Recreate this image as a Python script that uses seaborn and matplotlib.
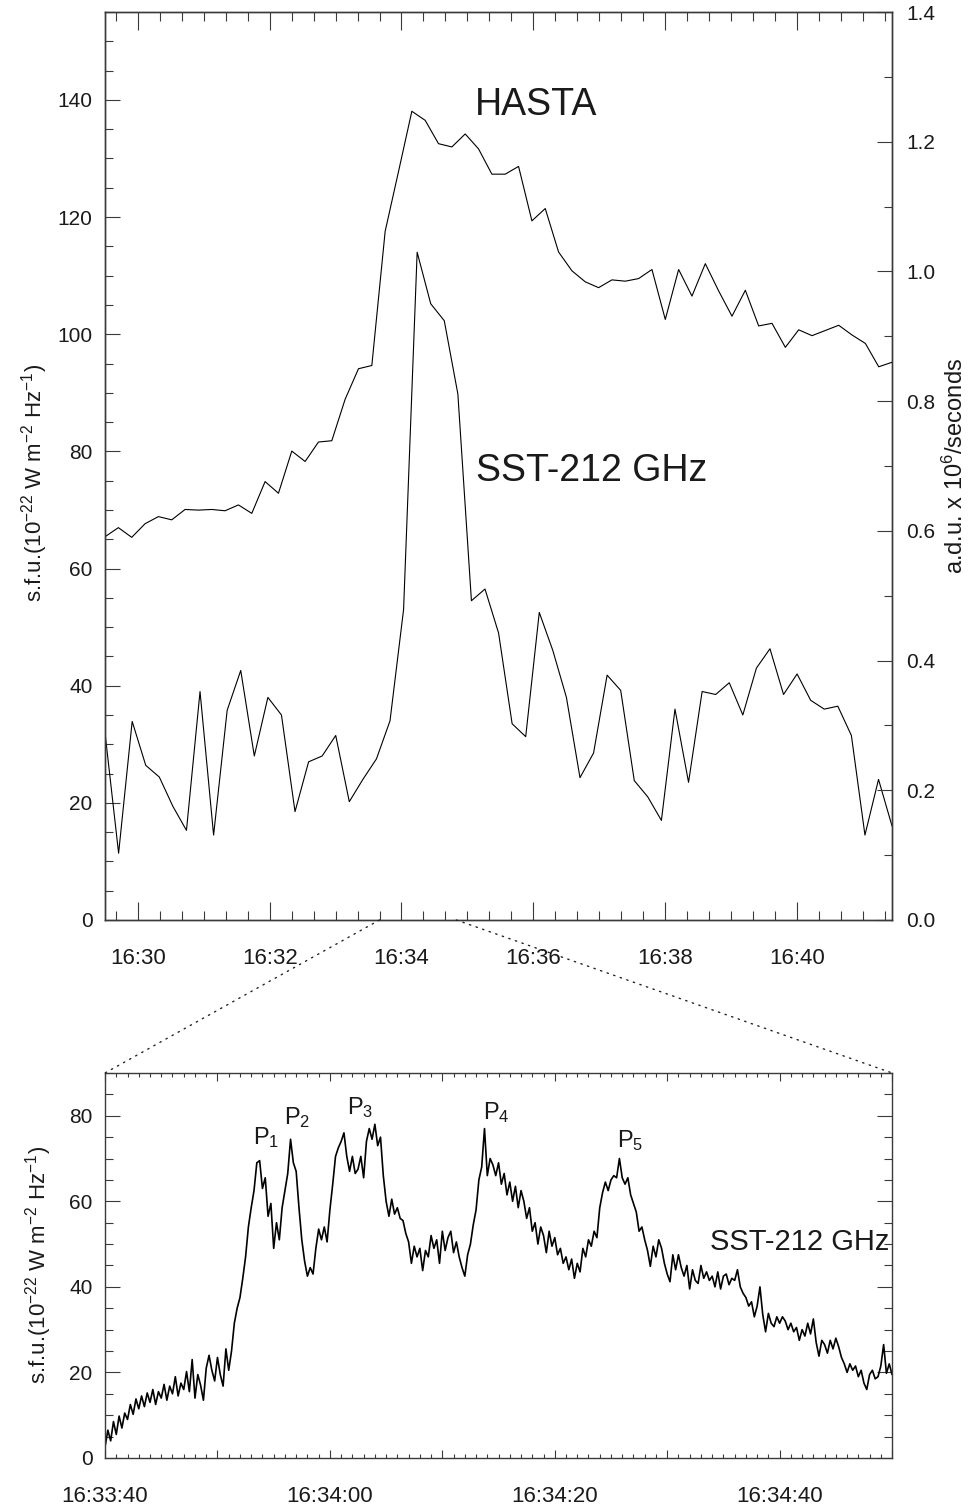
import numpy as np
import matplotlib
matplotlib.use("Agg")
import matplotlib.pyplot as plt
from matplotlib.ticker import MultipleLocator, FuncFormatter
from matplotlib.patches import ConnectionPatch
import seaborn as sns

sns.set_theme(style="ticks")
plt.rcParams['font.family'] = ['Liberation Sans', 'DejaVu Sans']
plt.rcParams['mathtext.fontset'] = 'custom'
plt.rcParams['mathtext.rm'] = 'Liberation Sans'
plt.rcParams['mathtext.it'] = 'Liberation Sans'
plt.rcParams['mathtext.bf'] = 'Liberation Sans:bold'

# ---------------- data ----------------
# top panel: both series start at 16:29:30
top_start_s = 16 * 3600 + 29 * 60 + 30
hasta_cadence_s = 12.15
sst_top_cadence_s = 12.36
hasta_adu = [0.591, 0.605, 0.590, 0.611, 0.622, 0.617, 0.633, 0.632, 0.633, 0.631,
             0.640, 0.627, 0.676, 0.658, 0.723, 0.707, 0.737, 0.739, 0.803, 0.850,
             0.855, 1.062, 1.154, 1.247, 1.233, 1.197, 1.192, 1.212, 1.189, 1.150,
             1.150, 1.162, 1.078, 1.097, 1.030, 1.001, 0.984, 0.975, 0.987, 0.985,
             0.989, 1.003, 0.926, 1.003, 0.962, 1.012, 0.970, 0.931, 0.971, 0.916,
             0.920, 0.883, 0.910, 0.901, 0.909, 0.917, 0.902, 0.889, 0.853, 0.860]
sst_top_sfu = [31.9, 11.4, 33.9, 26.4, 24.4, 19.4, 15.3, 39.0, 14.5, 35.8,
               42.6, 28.0, 38.0, 35.0, 18.5, 27.0, 28.0, 31.5, 20.2, 24.0,
               27.5, 34.0, 53.0, 114.0, 105.2, 102.3, 89.8, 54.5, 56.5, 49.0,
               33.5, 31.3, 52.5, 46.0, 38.0, 24.3, 28.5, 41.8, 39.2, 23.8,
               21.0, 17.0, 36.0, 23.5, 39.0, 38.5, 40.5, 35.0, 43.0, 46.3,
               38.5, 42.0, 37.5, 36.0, 36.5, 31.5, 14.5, 24.0, 16.0]

# bottom panel: 16:33:40 - 16:34:50, 0.25 s sampling
zoom_start_s = 16 * 3600 + 33 * 60 + 40
zoom_end_s = 16 * 3600 + 34 * 60 + 50
zoom_cadence_s = 0.25
sst_zoom_sfu = [
    2.6, 6.5, 4.0, 8.5, 5.5, 9.8, 7.0, 10.5, 9.0, 12.5, 10.2, 13.8, 11.5, 14.5, 12.0, 15.2, 13.0, 16.0, 12.5, 15.5,
    14.0, 17.2, 13.5, 16.8, 15.0, 19.0, 14.5, 17.5, 16.0, 20.2, 15.5, 23.0, 14.0, 19.5, 17.0, 13.5, 21.0, 24.0, 20.5, 18.0,
    23.5, 19.5, 16.8, 25.5, 20.5, 25.0, 31.5, 35.0, 37.5, 42.0, 47.0, 54.0, 58.5, 62.5, 69.0, 69.5, 63.0, 65.5, 56.5, 59.5,
    49.0, 55.0, 51.0, 58.5, 62.5, 66.5, 74.5, 69.0, 67.0, 58.5, 51.0, 46.0, 42.5, 44.5, 43.0, 49.0, 53.5, 51.0, 54.0, 50.5,
    58.0, 64.0, 70.5, 72.5, 74.0, 76.0, 70.5, 67.0, 70.5, 66.5, 67.5, 70.5, 65.5, 74.0, 77.0, 74.5, 78.0, 73.0, 75.0, 66.0,
    60.0, 56.5, 60.5, 57.0, 58.5, 56.0, 55.5, 52.5, 50.5, 45.5, 49.5, 47.0, 49.0, 43.8, 48.5, 47.0, 52.0, 49.0, 51.0, 45.5,
    53.0, 48.5, 51.5, 53.0, 48.0, 50.5, 47.0, 44.5, 42.5, 47.5, 50.0, 54.5, 58.0, 65.0, 68.0, 77.0, 66.0, 70.0, 68.5, 66.0,
    69.0, 64.0, 66.5, 61.5, 64.5, 60.0, 63.5, 58.5, 62.5, 60.0, 56.0, 58.5, 53.0, 55.0, 50.0, 54.0, 52.0, 48.0, 53.0, 49.5,
    51.5, 47.5, 49.0, 45.5, 47.0, 44.0, 46.5, 42.0, 45.5, 43.5, 49.0, 47.0, 51.0, 49.5, 53.0, 51.5, 58.5, 62.0, 64.5, 62.5,
    65.0, 66.0, 65.5, 70.0, 65.5, 64.0, 65.5, 61.5, 59.5, 57.5, 53.0, 54.0, 51.0, 48.5, 44.8, 49.5, 47.0, 51.0, 49.0, 45.5,
    43.0, 41.2, 47.5, 44.0, 47.5, 44.5, 42.5, 45.0, 39.5, 44.0, 41.5, 40.8, 45.0, 42.0, 43.5, 41.5, 42.5, 40.0, 43.5, 39.5,
    42.5, 43.0, 40.5, 42.0, 41.5, 44.0, 40.0, 38.5, 37.5, 35.5, 36.5, 33.0, 35.5, 40.0, 33.5, 29.5, 33.8, 31.5, 30.7, 33.0,
    31.5, 33.0, 32.0, 30.0, 31.5, 29.5, 30.5, 27.5, 30.0, 28.5, 31.5, 29.0, 32.5, 27.0, 23.8, 27.5, 26.5, 24.5, 27.5, 25.5,
    28.0, 26.0, 23.5, 22.0, 20.0, 22.0, 20.5, 21.5, 19.0, 20.5, 17.5, 16.0, 19.5, 20.5, 18.5, 19.0, 21.5, 26.5, 19.8, 22.0,
    19.5]

peak_labels = ["P$_1$", "P$_2$", "P$_3$", "P$_4$", "P$_5$"]
peak_label_t = ["16:33:54.3", "16:33:57.1", "16:34:02.7", "16:34:14.8", "16:34:26.7"]
peak_label_y = [74.9, 79.6, 81.9, 80.7, 74.1]

# ---------------- helpers ----------------
def hms_to_s(s):
    h, m, sec = s.split(":")
    return int(h) * 3600 + int(m) * 60 + float(sec)

hasta_t = top_start_s + hasta_cadence_s * np.arange(len(hasta_adu))
sst_top_t = top_start_s + sst_top_cadence_s * np.arange(len(sst_top_sfu))
zoom_t = zoom_start_s + zoom_cadence_s * np.arange(len(sst_zoom_sfu))

fmt_hm = FuncFormatter(lambda v, p: f"{int(v // 3600)}:{int(v % 3600 // 60):02d}")
def _fmt_hms(v, p):
    v = int(round(v))
    if v % 20 != 0:
        return ""
    return f"{v // 3600}:{v % 3600 // 60:02d}:{v % 60:02d}"
fmt_hms = FuncFormatter(_fmt_hms)

SPINE = "#3a3a3a"
TXT = "#1a1a1a"

fig = plt.figure(figsize=(9.69, 15.04), dpi=100)
ax = fig.add_axes([0.1084, 0.3883, 0.8122, 0.6037])
axb = fig.add_axes([0.1084, 0.0306, 0.8122, 0.2560])

# ---- top panel ----
sns.lineplot(x=sst_top_t, y=np.array(sst_top_sfu), ax=ax, color="black", linewidth=0.8,
             estimator=None, sort=False)
ax2 = ax.twinx()
sns.lineplot(x=hasta_t, y=np.array(hasta_adu), ax=ax2, color="black", linewidth=0.8,
             estimator=None, sort=False)
ax.set_xlim(hasta_t[0], hasta_t[-1])
ax.set_ylim(0, 155)
ax2.set_ylim(0, 1.4)

ax.xaxis.set_major_locator(MultipleLocator(120))
ax.xaxis.set_minor_locator(MultipleLocator(20))
ax.xaxis.set_major_formatter(fmt_hm)
ax.yaxis.set_major_locator(MultipleLocator(20))
ax.yaxis.set_minor_locator(MultipleLocator(5))
ax2.yaxis.set_major_locator(MultipleLocator(0.2))
ax2.yaxis.set_minor_locator(MultipleLocator(0.1))
ax2.yaxis.set_major_formatter(FuncFormatter(lambda v, p: f"{v:.1f}"))

ax.tick_params(axis="x", which="major", direction="in", length=13, width=0.8,
               top=True, bottom=True, pad=20, labelsize=16, colors=SPINE, labelcolor=TXT)
ax.tick_params(axis="x", which="minor", direction="in", length=6.5, width=0.8,
               top=True, bottom=True, colors=SPINE)
ax.tick_params(axis="y", which="major", direction="in", length=11, width=0.8,
               left=True, right=False, pad=9, labelsize=15, colors=SPINE, labelcolor=TXT)
ax.tick_params(axis="y", which="minor", direction="in", length=5.5, width=0.8,
               left=True, right=False, colors=SPINE)
ax2.tick_params(axis="y", which="major", direction="in", length=11, width=0.8,
                left=False, right=True, pad=10, labelsize=15, colors=SPINE, labelcolor=TXT)
ax2.tick_params(axis="y", which="minor", direction="in", length=5.5, width=0.8,
                left=False, right=True, colors=SPINE)
ax.set_xlabel("")
ax2.set_xlabel("")
ax.set_ylabel("")
ax2.set_ylabel("")

for a in (ax, ax2, axb):
    for s in a.spines.values():
        s.set_color(SPINE)
        s.set_linewidth(1.0)

ax.text(-0.089, 0.481, "s.f.u.(10$^{-22}$ W m$^{-2}$ Hz$^{-1}$)", transform=ax.transAxes,
        rotation=90, ha="center", va="center", fontsize=16, color=TXT)
ax2.text(1.080, 0.50, "a.d.u. x 10$^6$/seconds", transform=ax.transAxes,
         rotation=90, ha="center", va="center", fontsize=17, color=TXT)

ax.text(hms_to_s("16:36:03"), 139.1, "HASTA", ha="center", va="center", fontsize=27, color=TXT)
ax.text(hms_to_s("16:36:53"), 76.7, "SST-212 GHz", ha="center", va="center", fontsize=27, color=TXT)

# ---- bottom panel ----
sns.lineplot(x=zoom_t, y=np.array(sst_zoom_sfu), ax=axb, color="black", linewidth=1.2,
             estimator=None, sort=False)
axb.set_xlim(zoom_start_s, zoom_end_s)
axb.set_ylim(0, 90)
axb.xaxis.set_major_locator(MultipleLocator(10))
axb.xaxis.set_minor_locator(MultipleLocator(1))
axb.xaxis.set_major_formatter(fmt_hms)
axb.yaxis.set_major_locator(MultipleLocator(20))
axb.yaxis.set_minor_locator(MultipleLocator(5))
axb.tick_params(axis="x", which="major", direction="in", length=5.5, width=0.8,
                top=True, bottom=True, pad=20, labelsize=16, colors=SPINE, labelcolor=TXT)
axb.tick_params(axis="x", which="minor", direction="in", length=2.8, width=0.8,
                top=True, bottom=True, colors=SPINE)
axb.tick_params(axis="y", which="major", direction="in", length=11, width=0.8,
                left=True, right=True, pad=9, labelsize=15, colors=SPINE, labelcolor=TXT)
axb.tick_params(axis="y", which="minor", direction="in", length=5.5, width=0.8,
                left=True, right=True, colors=SPINE)
axb.set_xlabel("")
axb.set_ylabel("")
axb.text(-0.085, 0.5, "s.f.u.(10$^{-22}$ W m$^{-2}$ Hz$^{-1}$)", transform=axb.transAxes,
         rotation=90, ha="center", va="center", fontsize=16, color=TXT)
axb.text(hms_to_s("16:34:41.8"), 50.5, "SST-212 GHz", ha="center", va="center",
         fontsize=21, color=TXT)
for lab, tt, yy in zip(peak_labels, peak_label_t, peak_label_y):
    axb.text(hms_to_s(tt), yy, lab, ha="center", va="center", fontsize=17, color=TXT)

# ---- zoom connector lines ----
for t_edge in (zoom_start_s, zoom_end_s):
    con = ConnectionPatch(xyA=(t_edge, 0), coordsA=ax.transData,
                          xyB=(t_edge, 90), coordsB=axb.transData,
                          linestyle=(0, (1, 4)), linewidth=1.0, color="#222222")
    fig.add_artist(con)

fig.savefig("out.png", dpi=100)
